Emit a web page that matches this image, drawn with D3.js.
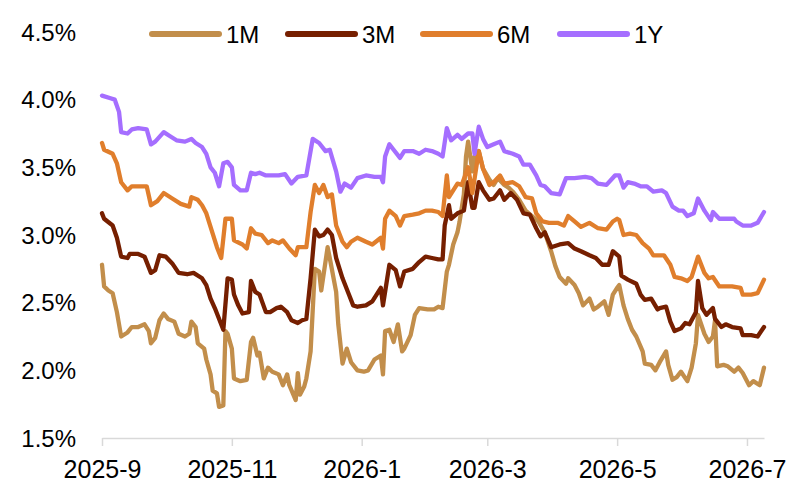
<!DOCTYPE html>
<html>
<head>
<meta charset="utf-8">
<script src="https://cdn.jsdelivr.net/npm/d3@7/dist/d3.min.js"></script>
<style>
  body { margin: 0; background: #fff; }
  text { font-family: "Liberation Sans", Arial, sans-serif; fill: #000; }
</style>
</head>
<body>
<div class="canvas"></div>
<script>
// interbank rates, %
const rate1M = [
  ['2025-09-01',2.78],['2025-09-02',2.62],['2025-09-04',2.59],['2025-09-06',2.57],['2025-09-08',2.43],
  ['2025-09-10',2.25],['2025-09-13',2.28],['2025-09-15',2.32],['2025-09-18',2.32],['2025-09-21',2.34],
  ['2025-09-23',2.29],['2025-09-24',2.20],['2025-09-26',2.24],['2025-09-28',2.37],['2025-09-30',2.42],
  ['2025-10-02',2.38],['2025-10-05',2.36],['2025-10-07',2.27],['2025-10-10',2.25],['2025-10-12',2.27],
  ['2025-10-13',2.36],['2025-10-15',2.32],['2025-10-16',2.20],['2025-10-19',2.16],['2025-10-20',2.08],
  ['2025-10-22',1.97],['2025-10-23',1.85],['2025-10-25',1.83],['2025-10-26',1.73],['2025-10-28',1.74],
  ['2025-10-29',2.29],['2025-10-30',2.27],['2025-11-01',2.16],['2025-11-02',1.94],['2025-11-05',1.92],
  ['2025-11-08',1.93],['2025-11-10',2.21],['2025-11-11',2.24],['2025-11-13',2.11],['2025-11-14',2.13],
  ['2025-11-16',1.94],['2025-11-18',2.02],['2025-11-20',1.99],['2025-11-23',1.97],['2025-11-25',1.89],
  ['2025-11-27',1.97],['2025-11-28',1.89],['2025-12-01',1.78],['2025-12-02',1.98],['2025-12-03',1.82],
  ['2025-12-05',1.88],['2025-12-06',1.94],['2025-12-08',2.14],['2025-12-10',2.75],['2025-12-12',2.73],
  ['2025-12-13',2.59],['2025-12-16',2.91],['2025-12-17',2.83],['2025-12-20',2.58],['2025-12-21',2.34],
  ['2025-12-23',2.05],['2025-12-25',2.16],['2025-12-27',2.06],['2025-12-30',2.00],['2026-01-02',1.99],
  ['2026-01-04',2.00],['2026-01-07',2.08],['2026-01-10',2.11],['2026-01-11',1.97],['2026-01-12',2.29],
  ['2026-01-14',2.30],['2026-01-16',2.21],['2026-01-18',2.34],['2026-01-20',2.14],['2026-01-21',2.16],
  ['2026-01-24',2.26],['2026-01-26',2.41],['2026-01-28',2.46],['2026-02-01',2.45],['2026-02-04',2.45],
  ['2026-02-06',2.47],['2026-02-08',2.46],['2026-02-10',2.73],['2026-02-11',2.78],['2026-02-13',2.93],
  ['2026-02-15',3.02],['2026-02-16',3.10],['2026-02-18',3.30],['2026-02-19',3.58],['2026-02-20',3.69],
  ['2026-02-22',3.47],['2026-02-23',3.58],['2026-02-25',3.62],['2026-02-27',3.49],['2026-03-02',3.41],
  ['2026-03-04',3.37],['2026-03-06',3.42],['2026-03-09',3.37],['2026-03-11',3.35],['2026-03-13',3.32],
  ['2026-03-16',3.26],['2026-03-19',3.18],['2026-03-22',3.14],['2026-03-25',3.10],['2026-03-28',3.02],
  ['2026-03-31',2.88],['2026-04-02',2.77],['2026-04-04',2.69],['2026-04-07',2.64],['2026-04-08',2.68],
  ['2026-04-11',2.63],['2026-04-13',2.57],['2026-04-15',2.48],['2026-04-18',2.53],['2026-04-20',2.45],
  ['2026-04-22',2.47],['2026-04-25',2.51],['2026-04-27',2.41],['2026-04-29',2.56],['2026-05-01',2.61],
  ['2026-05-02',2.63],['2026-05-04',2.48],['2026-05-06',2.38],['2026-05-08',2.30],['2026-05-10',2.25],
  ['2026-05-13',2.14],['2026-05-14',2.05],['2026-05-17',2.04],['2026-05-19',2.00],['2026-05-21',2.06],
  ['2026-05-24',2.14],['2026-05-25',2.04],['2026-05-27',1.93],['2026-05-29',1.95],['2026-05-31',1.99],
  ['2026-06-03',1.92],['2026-06-05',2.02],['2026-06-07',2.20],['2026-06-08',2.41],['2026-06-11',2.27],
  ['2026-06-13',2.21],['2026-06-15',2.25],['2026-06-16',2.37],['2026-06-17',2.03],['2026-06-20',2.04],
  ['2026-06-22',2.03],['2026-06-25',1.99],['2026-06-27',2.02],['2026-06-29',1.98],['2026-07-02',1.89],
  ['2026-07-04',1.92],['2026-07-07',1.89],['2026-07-09',2.02]
]

const rate3M = [
  ['2025-09-01',3.16],['2025-09-02',3.12],['2025-09-06',3.07],['2025-09-08',2.98],['2025-09-10',2.84],
  ['2025-09-13',2.83],['2025-09-14',2.86],['2025-09-18',2.86],['2025-09-21',2.84],['2025-09-24',2.72],
  ['2025-09-26',2.74],['2025-09-28',2.85],['2025-10-01',2.84],['2025-10-04',2.79],['2025-10-07',2.72],
  ['2025-10-11',2.71],['2025-10-14',2.72],['2025-10-18',2.68],['2025-10-20',2.63],['2025-10-22',2.53],
  ['2025-10-24',2.46],['2025-10-28',2.30],['2025-10-30',2.68],['2025-11-01',2.67],['2025-11-02',2.56],
  ['2025-11-04',2.48],['2025-11-06',2.42],['2025-11-09',2.43],['2025-11-10',2.66],['2025-11-12',2.58],
  ['2025-11-14',2.56],['2025-11-17',2.43],['2025-11-19',2.43],['2025-11-22',2.46],['2025-11-24',2.47],
  ['2025-11-27',2.43],['2025-11-29',2.37],['2025-12-02',2.35],['2025-12-04',2.37],['2025-12-06',2.38],
  ['2025-12-08',2.68],['2025-12-10',3.04],['2025-12-12',2.99],['2025-12-14',3.00],['2025-12-16',3.04],
  ['2025-12-18',3.00],['2025-12-20',2.83],['2025-12-23',2.68],['2025-12-26',2.56],['2025-12-28',2.48],
  ['2025-12-30',2.47],['2026-01-03',2.48],['2026-01-06',2.51],['2026-01-08',2.56],['2026-01-10',2.61],
  ['2026-01-11',2.48],['2026-01-13',2.68],['2026-01-14',2.78],['2026-01-17',2.74],['2026-01-19',2.62],
  ['2026-01-21',2.73],['2026-01-25',2.75],['2026-01-28',2.80],['2026-01-31',2.84],['2026-02-03',2.83],
  ['2026-02-06',2.82],['2026-02-08',2.82],['2026-02-09',3.07],['2026-02-11',3.22],['2026-02-12',3.12],
  ['2026-02-15',3.16],['2026-02-18',3.18],['2026-02-20',3.39],['2026-02-22',3.20],['2026-02-23',3.20],
  ['2026-02-25',3.39],['2026-02-27',3.33],['2026-03-02',3.26],['2026-03-04',3.27],['2026-03-07',3.33],
  ['2026-03-09',3.26],['2026-03-12',3.31],['2026-03-15',3.26],['2026-03-18',3.16],['2026-03-21',3.15],
  ['2026-03-24',3.05],['2026-03-26',2.99],['2026-03-28',3.02],['2026-03-31',2.91],['2026-04-04',2.93],
  ['2026-04-08',2.94],['2026-04-11',2.90],['2026-04-14',2.88],['2026-04-18',2.85],['2026-04-21',2.83],
  ['2026-04-24',2.78],['2026-04-27',2.78],['2026-04-29',2.88],['2026-05-02',2.84],['2026-05-03',2.70],
  ['2026-05-06',2.67],['2026-05-10',2.64],['2026-05-12',2.56],['2026-05-14',2.52],['2026-05-17',2.53],
  ['2026-05-20',2.45],['2026-05-21',2.46],['2026-05-24',2.47],['2026-05-26',2.36],['2026-05-28',2.29],
  ['2026-05-31',2.31],['2026-06-02',2.35],['2026-06-04',2.34],['2026-06-07',2.43],['2026-06-08',2.66],
  ['2026-06-10',2.46],['2026-06-12',2.41],['2026-06-15',2.46],['2026-06-16',2.38],['2026-06-19',2.32],
  ['2026-06-21',2.34],['2026-06-24',2.32],['2026-06-28',2.31],['2026-06-29',2.26],['2026-07-03',2.26],
  ['2026-07-06',2.25],['2026-07-09',2.32]
]

const rate6M = [
  ['2025-09-01',3.68],['2025-09-02',3.63],['2025-09-06',3.60],['2025-09-08',3.53],['2025-09-10',3.39],
  ['2025-09-13',3.33],['2025-09-15',3.36],['2025-09-18',3.36],['2025-09-22',3.36],['2025-09-24',3.22],
  ['2025-09-27',3.25],['2025-09-30',3.31],['2025-10-04',3.27],['2025-10-08',3.23],['2025-10-12',3.21],
  ['2025-10-13',3.28],['2025-10-16',3.26],['2025-10-18',3.22],['2025-10-20',3.16],['2025-10-23',3.01],
  ['2025-10-25',2.91],['2025-10-27',2.83],['2025-10-29',3.12],['2025-11-01',3.12],['2025-11-02',2.96],
  ['2025-11-06',2.93],['2025-11-08',2.90],['2025-11-10',3.05],['2025-11-12',3.01],['2025-11-15',3.00],
  ['2025-11-18',2.94],['2025-11-20',2.96],['2025-11-23',2.94],['2025-11-25',2.96],['2025-11-28',2.90],
  ['2025-12-01',2.85],['2025-12-02',2.91],['2025-12-06',2.91],['2025-12-08',3.17],['2025-12-10',3.37],
  ['2025-12-12',3.31],['2025-12-14',3.37],['2025-12-16',3.28],['2025-12-18',3.30],['2025-12-20',3.07],
  ['2025-12-23',2.95],['2025-12-25',2.91],['2025-12-27',2.95],['2025-12-30',2.98],['2026-01-03',2.95],
  ['2026-01-06',2.93],['2026-01-10',2.98],['2026-01-11',2.90],['2026-01-12',3.12],['2026-01-14',3.18],
  ['2026-01-17',3.14],['2026-01-19',3.07],['2026-01-21',3.14],['2026-01-25',3.15],['2026-01-28',3.16],
  ['2026-01-31',3.18],['2026-02-03',3.18],['2026-02-06',3.17],['2026-02-08',3.14],['2026-02-10',3.44],
  ['2026-02-11',3.28],['2026-02-15',3.38],['2026-02-17',3.37],['2026-02-20',3.50],['2026-02-22',3.31],
  ['2026-02-25',3.62],['2026-02-27',3.49],['2026-03-02',3.37],['2026-03-04',3.39],['2026-03-07',3.44],
  ['2026-03-09',3.38],['2026-03-13',3.39],['2026-03-16',3.36],['2026-03-19',3.28],['2026-03-22',3.27],
  ['2026-03-24',3.16],['2026-03-27',3.10],['2026-03-30',3.09],['2026-04-03',3.09],['2026-04-06',3.07],
  ['2026-04-08',3.14],['2026-04-11',3.10],['2026-04-14',3.06],['2026-04-18',3.09],['2026-04-22',3.05],
  ['2026-04-26',3.04],['2026-04-29',3.10],['2026-05-01',3.12],['2026-05-02',3.11],['2026-05-04',3.00],
  ['2026-05-07',3.01],['2026-05-10',3.00],['2026-05-13',2.94],['2026-05-16',2.90],['2026-05-18',2.85],
  ['2026-05-23',2.85],['2026-05-26',2.78],['2026-05-28',2.69],['2026-05-31',2.68],['2026-06-03',2.66],
  ['2026-06-05',2.69],['2026-06-08',2.84],['2026-06-11',2.72],['2026-06-13',2.68],['2026-06-15',2.69],
  ['2026-06-18',2.62],['2026-06-21',2.62],['2026-06-24',2.62],['2026-06-28',2.61],['2026-06-29',2.56],
  ['2026-07-03',2.56],['2026-07-06',2.57],['2026-07-09',2.67]
]

const rate1Y = [
  ['2025-09-01',4.03],['2025-09-05',4.01],['2025-09-07',4.00],['2025-09-09',3.91],['2025-09-10',3.76],
  ['2025-09-13',3.75],['2025-09-15',3.78],['2025-09-18',3.79],['2025-09-22',3.78],['2025-09-24',3.67],
  ['2025-09-26',3.69],['2025-09-30',3.76],['2025-10-03',3.73],['2025-10-06',3.70],['2025-10-10',3.69],
  ['2025-10-13',3.71],['2025-10-15',3.68],['2025-10-18',3.65],['2025-10-20',3.60],['2025-10-22',3.50],
  ['2025-10-24',3.46],['2025-10-26',3.36],['2025-10-28',3.53],['2025-10-30',3.54],['2025-11-01',3.50],
  ['2025-11-02',3.37],['2025-11-05',3.33],['2025-11-08',3.33],['2025-11-10',3.46],['2025-11-12',3.45],
  ['2025-11-14',3.46],['2025-11-17',3.44],['2025-11-23',3.44],['2025-11-26',3.45],['2025-11-29',3.38],
  ['2025-12-02',3.43],['2025-12-06',3.44],['2025-12-09',3.71],['2025-12-12',3.68],['2025-12-15',3.62],
  ['2025-12-17',3.63],['2025-12-20',3.47],['2025-12-22',3.32],['2025-12-24',3.38],['2025-12-27',3.35],
  ['2025-12-30',3.42],['2026-01-03',3.44],['2026-01-07',3.43],['2026-01-10',3.43],['2026-01-11',3.39],
  ['2026-01-12',3.58],['2026-01-14',3.67],['2026-01-16',3.63],['2026-01-19',3.57],['2026-01-21',3.62],
  ['2026-01-25',3.62],['2026-01-28',3.60],['2026-01-31',3.63],['2026-02-03',3.62],['2026-02-06',3.60],
  ['2026-02-08',3.58],['2026-02-10',3.79],['2026-02-12',3.70],['2026-02-15',3.74],['2026-02-17',3.71],
  ['2026-02-20',3.75],['2026-02-22',3.75],['2026-02-23',3.60],['2026-02-25',3.80],['2026-02-27',3.71],
  ['2026-03-01',3.65],['2026-03-04',3.67],['2026-03-07',3.69],['2026-03-09',3.62],['2026-03-13',3.60],
  ['2026-03-16',3.58],['2026-03-18',3.52],['2026-03-21',3.52],['2026-03-24',3.44],['2026-03-26',3.37],
  ['2026-03-28',3.36],['2026-03-31',3.31],['2026-04-04',3.30],['2026-04-07',3.42],['2026-04-11',3.42],
  ['2026-04-16',3.43],['2026-04-19',3.42],['2026-04-22',3.38],['2026-04-26',3.37],['2026-04-30',3.44],
  ['2026-05-02',3.44],['2026-05-04',3.35],['2026-05-06',3.39],['2026-05-09',3.38],['2026-05-12',3.36],
  ['2026-05-15',3.36],['2026-05-18',3.32],['2026-05-22',3.33],['2026-05-24',3.31],['2026-05-27',3.21],
  ['2026-05-30',3.18],['2026-06-01',3.18],['2026-06-03',3.14],['2026-06-06',3.16],['2026-06-08',3.27],
  ['2026-06-11',3.18],['2026-06-14',3.11],['2026-06-15',3.17],['2026-06-18',3.12],['2026-06-22',3.12],
  ['2026-06-25',3.12],['2026-06-26',3.10],['2026-06-29',3.07],['2026-07-03',3.07],['2026-07-06',3.09],
  ['2026-07-09',3.17]
]

const seriesNames = ['1M', '3M', '6M', '1Y']
const seriesColors = ['#c28e4b', '#761f00', '#e07e2c', '#a56eff']
const yTicks = [1.5, 2.0, 2.5, 3.0, 3.5, 4.0, 4.5]
const xTicks = ['2025-09-01', '2025-11-01', '2026-01-01', '2026-03-01', '2026-05-01', '2026-07-01']
const xDomain = ['2025-09-01', '2026-07-09']

const width = 790, height = 493
const margin = {top: 32, right: 26, bottom: 55, left: 102}
const parse = d3.timeParse('%Y-%m-%d')

const svg = d3.select('.canvas')
  .append('svg')
  .attr('width', width)
  .attr('height', height)

const x = d3.scaleTime()
  .domain(xDomain.map(parse))
  .range([margin.left, width - margin.right])
const y = d3.scaleLinear()
  .domain([1.5, 4.5])
  .range([height - margin.bottom, margin.top])

// y labels only, no axis line
const yAxis = d3.axisLeft(y)
  .tickValues(yTicks)
  .tickSize(0)
  .tickPadding(26)
  .tickFormat(d => d.toFixed(1) + '%')
const yAxisGroup = svg.append('g')
  .attr('transform', `translate(${margin.left},0)`)
  .call(yAxis)
yAxisGroup.select('.domain').remove()
yAxisGroup.selectAll('text')
  .attr('font-size', 24)
  .attr('font-family', '"Liberation Sans", Arial, sans-serif')
  .attr('dy', '0.34em')

const xAxis = d3.axisBottom(x)
  .tickValues(xTicks.map(parse))
  .tickSize(8)
  .tickSizeOuter(0)
  .tickFormat(d3.timeFormat('%Y-%-m'))
const xAxisGroup = svg.append('g')
  .attr('transform', `translate(0,${height - margin.bottom})`)
  .call(xAxis)
xAxisGroup.select('.domain').attr('stroke', '#d9d9d9').attr('stroke-width', 1.5)
xAxisGroup.selectAll('line').attr('stroke', '#d9d9d9').attr('stroke-width', 1.5)
xAxisGroup.selectAll('text')
  .attr('font-size', 25)
  .attr('font-family', '"Liberation Sans", Arial, sans-serif')
  .attr('y', 40)
  .attr('dy', 0)

const line = d3.line()
  .x(d => x(parse(d[0])))
  .y(d => y(d[1]))

const allSeries = [rate1M, rate3M, rate6M, rate1Y]
svg.append('g')
  .selectAll('path')
  .data(allSeries)
  .enter()
  .append('path')
  .attr('d', line)
  .attr('fill', 'none')
  .attr('stroke', (d, i) => seriesColors[i])
  .attr('stroke-width', 4.3)
  .attr('stroke-linejoin', 'round')
  .attr('stroke-linecap', 'round')

// legend
const legendX = [152, 288, 423, 560]
const legend = svg.append('g')
  .selectAll('g')
  .data(seriesNames)
  .enter()
  .append('g')
  .attr('transform', (d, i) => `translate(${legendX[i]},34)`)
legend.append('line')
  .attr('x1', 0).attr('x2', 67)
  .attr('stroke', (d, i) => seriesColors[i])
  .attr('stroke-width', 6)
  .attr('stroke-linecap', 'round')
legend.append('text')
  .attr('x', 74)
  .attr('y', 8.5)
  .attr('font-size', 24)
  .text(d => d)
</script>
</body>
</html>
